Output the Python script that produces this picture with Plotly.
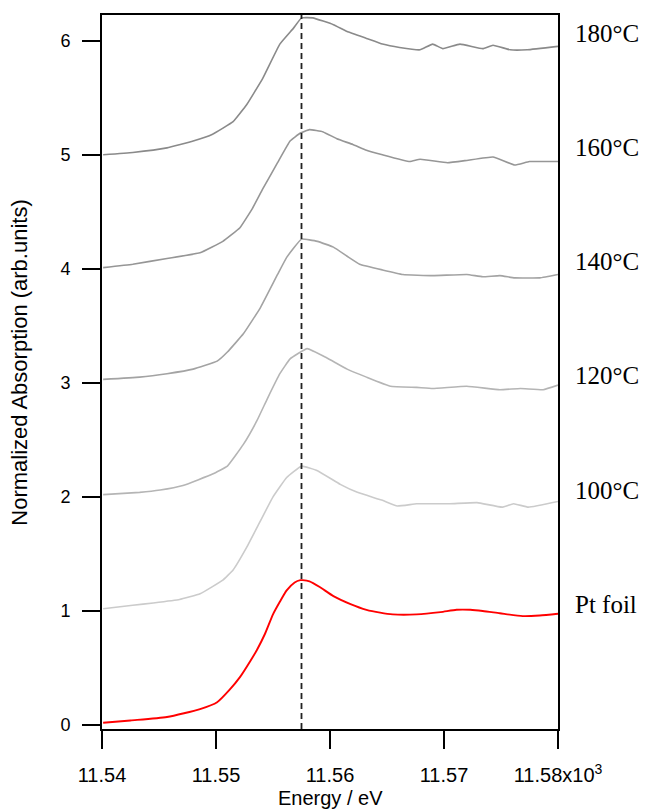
import plotly.graph_objects as go

# ---------------- data ----------------
e_pt = [11.5401, 11.5425, 11.5457, 11.5486, 11.5501, 11.5512, 11.5521, 11.5530, 11.5536,
        11.5543, 11.5550, 11.5556, 11.5562, 11.5569, 11.5574, 11.5576, 11.5582, 11.5591,
        11.5603, 11.5618, 11.5632, 11.5644, 11.5655, 11.5676, 11.5697, 11.5711, 11.5723,
        11.5734, 11.5749, 11.5769, 11.5784, 11.5800]
a_pt = [0.02, 0.04, 0.07, 0.14, 0.20, 0.31, 0.42, 0.56, 0.66, 0.80, 0.97, 1.08, 1.18, 1.25,
        1.27, 1.27, 1.26, 1.21, 1.13, 1.06, 1.01, 0.985, 0.97, 0.97, 0.99, 1.01, 1.01, 1.00,
        0.98, 0.955, 0.96, 0.975]

e_100 = [11.5401, 11.5427, 11.5445, 11.5468, 11.5486, 11.5506, 11.5515, 11.5527, 11.5539,
         11.5550, 11.5562, 11.5575, 11.5589, 11.5609, 11.5624, 11.5646, 11.5659, 11.5676,
         11.5705, 11.5729, 11.5751, 11.5761, 11.5774, 11.5800]
a_100 = [1.02, 1.05, 1.07, 1.10, 1.15, 1.27, 1.36, 1.56, 1.79, 2.00, 2.17, 2.27, 2.23, 2.11,
         2.04, 1.97, 1.92, 1.94, 1.94, 1.95, 1.91, 1.94, 1.91, 1.96]

e_120 = [11.5401, 11.5433, 11.5451, 11.5471, 11.5497, 11.5510, 11.5524, 11.5536, 11.5545,
         11.5556, 11.5565, 11.5580, 11.5597, 11.5615, 11.5632, 11.5653, 11.5676, 11.5690,
         11.5720, 11.5749, 11.5767, 11.5787, 11.5800]
a_120 = [2.02, 2.04, 2.06, 2.10, 2.20, 2.27, 2.46, 2.67, 2.86, 3.08, 3.21, 3.30, 3.22, 3.12,
         3.05, 2.97, 2.96, 2.95, 2.97, 2.94, 2.95, 2.94, 2.98]

e_140 = [11.5401, 11.5433, 11.5457, 11.5480, 11.5501, 11.5510, 11.5524, 11.5539, 11.5554,
         11.5562, 11.5575, 11.5589, 11.5603, 11.5615, 11.5626, 11.5646, 11.5664, 11.5690,
         11.5720, 11.5734, 11.5749, 11.5762, 11.5784, 11.5800]
a_140 = [3.03, 3.05, 3.08, 3.12, 3.19, 3.27, 3.43, 3.66, 3.95, 4.10, 4.26, 4.24, 4.19, 4.11,
         4.04, 3.99, 3.95, 3.94, 3.95, 3.93, 3.94, 3.92, 3.92, 3.95]

e_160 = [11.5401, 11.5427, 11.5457, 11.5486, 11.5506, 11.5521, 11.5532, 11.5541, 11.5554,
         11.5565, 11.5574, 11.5582, 11.5594, 11.5606, 11.5620, 11.5632, 11.5646, 11.5670,
         11.5679, 11.5703, 11.5720, 11.5743, 11.5762, 11.5775, 11.5800]
a_160 = [4.01, 4.04, 4.09, 4.14, 4.24, 4.36, 4.53, 4.70, 4.93, 5.12, 5.19, 5.22, 5.20, 5.14,
         5.09, 5.04, 5.00, 4.94, 4.96, 4.93, 4.95, 4.98, 4.91, 4.94, 4.94]

e_180 = [11.5401, 11.5427, 11.5457, 11.5480, 11.5497, 11.5515, 11.5527, 11.5541, 11.5556,
         11.5568, 11.5575, 11.5585, 11.5603, 11.5615, 11.5632, 11.5646, 11.5661, 11.5679,
         11.5690, 11.5699, 11.5714, 11.5734, 11.5743, 11.5758, 11.5773, 11.5800]
a_180 = [5.00, 5.02, 5.06, 5.12, 5.18, 5.29, 5.44, 5.67, 5.97, 6.11, 6.20, 6.20, 6.14, 6.08,
         6.02, 5.97, 5.94, 5.92, 5.97, 5.93, 5.97, 5.93, 5.96, 5.92, 5.92, 5.95]

series_names = ["Pt foil", "100°C", "120°C", "140°C", "160°C", "180°C"]
series_e = [e_pt, e_100, e_120, e_140, e_160, e_180]
series_a = [a_pt, a_100, a_120, a_140, a_160, a_180]
series_colors = ["#ff0000", "#cbcbcb", "#b5b5b5", "#a3a3a3", "#969696", "#8a8a8a"]
label_y = [1.06, 2.06, 3.06, 4.06, 5.06, 6.06]

edge_energy = 11.5575
x_ticks = [11.54, 11.55, 11.56, 11.57, 11.58]
x_ticktext = ["11.54", "11.55", "11.56", "11.57", "11.58x10<sup>3</sup>"]
y_ticks = [0, 1, 2, 3, 4, 5, 6]

# ---------------- figure ----------------
fig = go.Figure()
for name, e, a, c in zip(series_names, series_e, series_a, series_colors):
    fig.add_trace(go.Scatter(
        x=e, y=a, mode="lines", name=name,
        line=dict(color=c, width=1.9 if name == "Pt foil" else 1.6,
                  shape="spline", smoothing=0.6 if name == "Pt foil" else 0.3),
        showlegend=False, hoverinfo="skip"))

fig.add_shape(type="line", xref="x", yref="paper", x0=edge_energy, x1=edge_energy,
              y0=0, y1=1, line=dict(color="#222222", width=1.8, dash="6px,4px"))

for name, ly in zip(series_names, label_y):
    fig.add_annotation(x=1, xref="paper", xshift=15, y=ly, yref="y", text=name,
                       showarrow=False, xanchor="left", yanchor="middle",
                       font=dict(family="Liberation Serif, Times New Roman, serif",
                                 size=25, color="black"))

fig.add_annotation(x=0.5, xref="paper", y=0, yref="paper", yshift=-69,
                   text="Energy / eV", showarrow=False, xanchor="center",
                   yanchor="middle",
                   font=dict(family="Liberation Sans, Arial, sans-serif", size=20,
                             color="black"))
fig.add_annotation(x=0, xref="paper", xshift=-82, y=0.513, yref="paper",
                   text="Normalized Absorption (arb.units)", showarrow=False,
                   textangle=-90, xanchor="center", yanchor="middle",
                   font=dict(family="Liberation Sans, Arial, sans-serif", size=22,
                             color="black"))

fig.update_layout(
    width=645, height=809,
    margin=dict(l=102, r=87, t=15, b=80),
    paper_bgcolor="white", plot_bgcolor="white",
    font=dict(family="Liberation Sans, Arial, sans-serif", color="black"),
)
fig.update_xaxes(range=[11.54, 11.58], tickvals=x_ticks, ticktext=x_ticktext,
                 ticks="outside", ticklen=18, tickwidth=2, tickcolor="black",
                 showline=True, linecolor="black", linewidth=2, mirror=True,
                 showgrid=False, zeroline=False, ticklabelstandoff=9,
                 tickfont=dict(size=20, color="black"))
fig.update_yaxes(range=[-0.035, 6.225], tickvals=y_ticks,
                 ticks="outside", ticklen=18, tickwidth=2, tickcolor="black",
                 showline=True, linecolor="black", linewidth=2, mirror=True,
                 showgrid=False, zeroline=False, ticklabelstandoff=8,
                 tickfont=dict(size=18, color="black"))

fig.write_html("out.html", config={"displayModeBar": False},
               post_script="document.body.style.margin='0';document.body.style.overflow='hidden';")
